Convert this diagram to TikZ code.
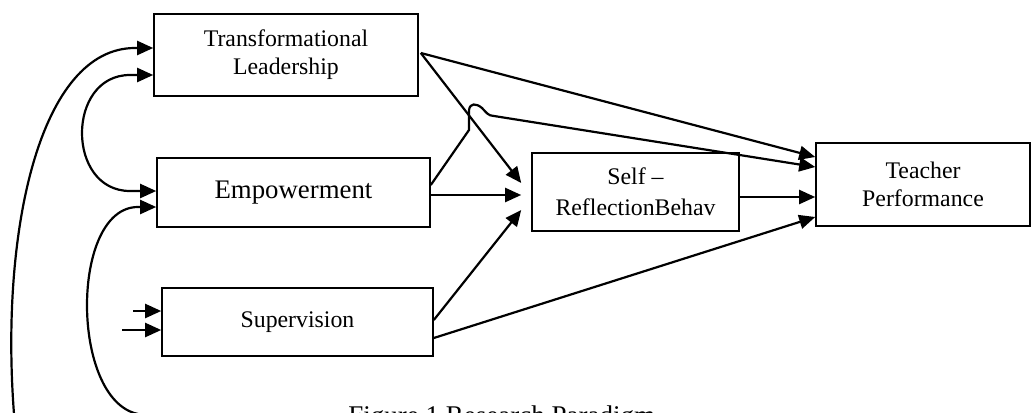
\documentclass[tikz,border=0pt]{standalone}
\usepackage{fontspec}
\setmainfont{Liberation Serif}
\usetikzlibrary{arrows.meta,calc}

\begin{document}
\begin{tikzpicture}[x=0.5pt,y=-0.5pt,
    varbox/.style={draw, line width=0.8pt, inner sep=0pt, align=center,
        font=\fontsize{11.9}{14}\selectfont},
    path/.style={line width=1.1pt, -{Triangle[length=8pt,width=7pt]}},
    twoway/.style={line width=1.1pt, {Triangle[length=8pt,width=7pt]}-{Triangle[length=8pt,width=7pt]}}]
    \useasboundingbox (0,0) rectangle (1032,412);
    \clip (0,0) rectangle (1032,412);

    % the variables
    \node[varbox, minimum width=132pt, minimum height=41pt] (tl) at (286,55)
        {Transformational\\Leadership};
    \node[varbox, minimum width=136.5pt, minimum height=34.5pt,
        font=\fontsize{13.4}{16}\selectfont] (emp) at (293.5,192.5) {Empowerment};
    \node[varbox, minimum width=135.5pt, minimum height=34pt] (sup) at (297.5,322)
        {Supervision};
    \node[varbox, minimum width=103.5pt, minimum height=39pt,
        font=\fontsize{11.9}{15.5}\selectfont] (self) at (635.5,192)
        {Self --\\ReflectionBehav};
    \node[varbox, minimum width=107pt, minimum height=41.5pt] (tp) at (923,184.5)
        {Teacher\\Performance};

    % free ends on the left
    \coordinate (outer) at (14,414);
    \coordinate (inner) at (138,414);
    \coordinate (supa) at (133,311);
    \coordinate (supb) at (122,330);

    % paths to teacher performance
    \draw[path] ($(tl.east)+(2,-2)$) -- ($(tp.west)+(0,-27.5)$);
    \draw[path] ($(emp.east)+(0,-7.5)$) -- (469,130) -- (469,110)
        .. controls (470,103) and (476,103) .. (482,108)
        .. controls (486,112) and (488,116) .. (494,116)
        -- ($(tp.west)+(0,-17.5)$);
    \draw[path] ($(self.east)+(0,5)$) -- ($(tp.west)+(0,12.5)$);
    \draw[path] ($(sup.east)+(0,16)$) -- ($(tp.west)+(0,32.5)$);

    % paths to self reflection
    \draw[path] ($(tl.east)+(2,-2)$) -- ($(self.west)+(-10,-9)$);
    \draw[path] ($(emp.east)+(0,2.5)$) -- ($(self.west)+(-10,3)$);
    \draw[path] ($(sup.east)+(0,-2)$) -- ($(self.west)+(-10,18)$);

    % curves on the left
    \draw[path] (outer) .. controls (0,230) and (40,48) .. (135,48)
        -- ($(tl.west)+(0,-7)$);
    \draw[twoway] ($(tl.west)+(0,20)$) -- (130,75)
        .. controls (66,75) and (66,191) .. (130,191) -- ($(emp.west)+(0,-1.5)$);
    \draw[path] (inner) .. controls (70,400) and (70,207) .. (138,207)
        -- ($(emp.west)+(0,14.5)$);
    \draw[path] (supa) -- ($(sup.west)+(0,-11)$);
    \draw[path] (supb) -- ($(sup.west)+(0,8)$);

    % caption, cut off at the bottom
    \node[anchor=base west, inner sep=0pt, font=\fontsize{13.5}{16}\selectfont]
        (caption) at (348,424) {Figure 1 Research Paradigm};
\end{tikzpicture}
\end{document}
